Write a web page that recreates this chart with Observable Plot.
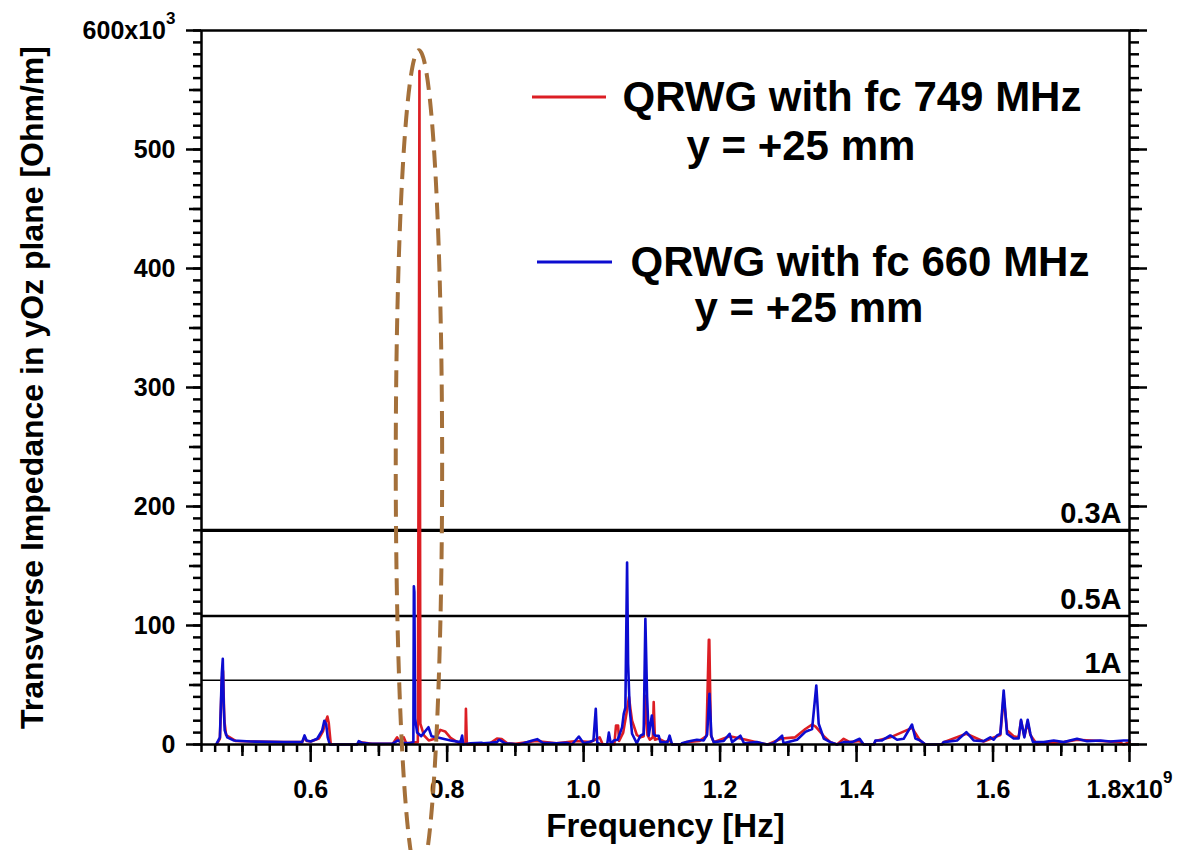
<!DOCTYPE html>
<html>
<head>
<meta charset="utf-8">
<script src="https://cdn.jsdelivr.net/npm/d3@7"></script>
<script src="https://cdn.jsdelivr.net/npm/@observablehq/plot@0.6"></script>
<style>
  html, body { margin: 0; padding: 0; background: #fff; overflow: hidden; }
  #chart svg { display: block; }
</style>
</head>
<body>
<div id="chart"></div>
<script>
// ---------------- data (frequency in GHz = 10^9 Hz, impedance in 10^3 Ohm/m) ----------------
const xDomain = [0.44, 1.8];
const yDomain = [0, 600];

const xMajorTicks = [0.6, 0.8, 1.0, 1.2, 1.4, 1.6, 1.8];
const xTickLabels = ["0.6", "0.8", "1.0", "1.2", "1.4", "1.6", "1.8x10^9"];
const yMajorTicks = [0, 100, 200, 300, 400, 500, 600];
const yTickLabels = ["0", "100", "200", "300", "400", "500", "600x10^3"];

const xLabel = "Frequency [Hz]";
const yLabel = "Transverse Impedance in yOz plane [Ohm/m]";

const legendLabels = ["QRWG with fc 749 MHz", "QRWG with fc 660 MHz"];
const legendSubLabel = "y = +25 mm";

const thresholdValues = [180, 108, 54];
const thresholdLabels = ["0.3A", "0.5A", "1A"];

// annotation ellipse around the 749 MHz resonance (center and radii in data units)
const ellipseCenter = [0.7594, 235];
const ellipseRadii = [0.034, 348];

// QRWG fc 749 MHz (red)
const redSeries = [
  [0.462, 0], [0.467, 5], [0.4698, 55], [0.4715, 62], [0.4735, 20], [0.476, 8], [0.490, 3],
  [0.512, 2.5], [0.560, 2], [0.5875, 2], [0.591, 6], [0.594, 3], [0.600, 2.5], [0.612, 5],
  [0.618, 11], [0.6225, 20], [0.6245, 23.5], [0.6265, 18], [0.6295, 0], [0.668, 0],
  [0.671, 2], [0.690, 0.5], [0.720, 0.5], [0.7267, 6], [0.731, 2], [0.7365, 6], [0.740, 1],
  [0.757, 2], [0.7588, 370], [0.7594, 566], [0.7600, 300], [0.7607, 17.6], [0.766, 7.6],
  [0.773, 3.4], [0.783, 5], [0.790, 12.3], [0.797, 11], [0.805, 5.6], [0.818, 1],
  [0.8268, 1], [0.8275, 30], [0.8288, 2], [0.8295, 0], [0.860, 0], [0.873, 5], [0.880, 4.5],
  [0.888, 1], [0.900, 0.5], [0.930, 3], [0.960, 1], [0.990, 3], [1.010, 2], [1.020, 5],
  [1.0235, 6], [1.028, 0], [1.045, 0], [1.0475, 16], [1.0505, 16], [1.052, 3], [1.058, 10],
  [1.0625, 25], [1.0665, 40], [1.0686, 30], [1.071, 20], [1.078, 8], [1.0832, 6], [1.088, 7],
  [1.0915, 41], [1.0935, 8], [1.097, 4], [1.1015, 6], [1.1027, 35.6], [1.1045, 4], [1.110, 5],
  [1.120, 2], [1.126, 4], [1.1297, 0], [1.1425, 0], [1.150, 2], [1.170, 3], [1.180, 7],
  [1.1835, 88], [1.1842, 88], [1.1865, 8], [1.1906, 2], [1.214, 7], [1.230, 5], [1.260, 1],
  [1.270, 0], [1.290, 5], [1.310, 6], [1.325, 13], [1.3348, 16.8], [1.340, 15], [1.3445, 12],
  [1.352, 7], [1.3616, 2], [1.3714, 0], [1.3811, 4.8], [1.390, 2], [1.4045, 3], [1.4104, 0],
  [1.4255, 0], [1.4276, 3], [1.4495, 6], [1.4813, 14], [1.4935, 3], [1.5008, 0], [1.525, 0],
  [1.5277, 2], [1.5609, 9], [1.5862, 2.5], [1.6107, 8], [1.6156, 40], [1.6205, 12],
  [1.6302, 7], [1.6375, 6], [1.641, 20], [1.6459, 7], [1.6508, 19], [1.6547, 8], [1.6645, 0],
  [1.6743, 1], [1.7036, 2], [1.7231, 4], [1.7573, 3], [1.785, 2], [1.7915, 0], [1.800, 2]
];

// QRWG fc 660 MHz (blue)
const blueSeries = [
  [0.462, 0.5], [0.467, 6], [0.4698, 60], [0.4712, 72], [0.4727, 31], [0.474, 12],
  [0.4777, 6], [0.487, 3.4], [0.512, 2.5], [0.560, 2], [0.5875, 2], [0.591, 7.6], [0.594, 3.4],
  [0.600, 2.5], [0.6095, 4.8], [0.6168, 11.8], [0.620, 20], [0.6227, 17], [0.625, 6],
  [0.628, 0], [0.668, 0], [0.6705, 2.8], [0.675, 1.5], [0.685, 0.8], [0.700, 0.5],
  [0.720, 0.8], [0.728, 3.4], [0.735, 1.5], [0.745, 1], [0.7505, 2], [0.7512, 133],
  [0.7520, 128], [0.7530, 22], [0.756, 10], [0.762, 7], [0.7726, 14.5], [0.777, 7],
  [0.788, 5.6], [0.805, 3.4], [0.8195, 2], [0.822, 7.5], [0.8235, 0], [0.834, 1], [0.850, 1.5],
  [0.853, 1], [0.863, 1.5], [0.873, 2], [0.876, 4], [0.885, 1], [0.895, 0.5], [0.905, 0],
  [0.912, 1], [0.925, 3.4], [0.932, 4.5], [0.940, 1.5], [0.960, 1], [0.975, 1.5], [0.983, 0],
  [0.993, 6.7], [1.000, 1], [1.0075, 2], [1.0144, 3.4], [1.0178, 30], [1.020, 1.5],
  [1.025, 0], [1.0345, 0], [1.037, 10], [1.040, 0], [1.0441, 3.4], [1.050, 4], [1.0564, 14.6],
  [1.0588, 25.8], [1.0612, 31], [1.0637, 153], [1.0652, 68], [1.0675, 30], [1.071, 9],
  [1.078, 1], [1.0832, 7.4], [1.088, 8.8], [1.0905, 105.6], [1.093, 40], [1.0954, 7.4],
  [1.100, 24.4], [1.1027, 9], [1.1052, 7.4], [1.110, 7.4], [1.1125, 2], [1.123, 2],
  [1.126, 7.4], [1.1297, 0], [1.1425, 0], [1.144, 1], [1.1565, 3], [1.166, 4], [1.176, 3.4],
  [1.181, 8.4], [1.1844, 42.6], [1.1873, 7], [1.1906, 2], [1.2053, 3], [1.214, 9],
  [1.2176, 2], [1.2298, 7.4], [1.235, 1], [1.254, 2], [1.269, 0], [1.2786, 1], [1.2909, 7.4],
  [1.293, 1], [1.3128, 4], [1.325, 10.6], [1.3348, 13], [1.341, 49.6], [1.3445, 17.4],
  [1.352, 5], [1.3616, 2], [1.3714, 0], [1.3811, 2], [1.3934, 2], [1.4045, 4.8], [1.4104, 0],
  [1.4255, 0], [1.4276, 3.4], [1.4374, 3.4], [1.4495, 7.6], [1.4594, 4], [1.469, 4.8],
  [1.4813, 16.8], [1.4862, 5], [1.4935, 3.4], [1.5008, 0], [1.525, 0], [1.5277, 2],
  [1.5473, 3.4], [1.5609, 10.4], [1.5716, 3.4], [1.5862, 2.8], [1.596, 6], [1.6009, 4],
  [1.6059, 7.6], [1.6107, 9], [1.6156, 45.4], [1.6205, 9], [1.6302, 5], [1.6375, 5],
  [1.641, 20.7], [1.6459, 6], [1.6508, 20.7], [1.6547, 9], [1.6586, 2], [1.6743, 2],
  [1.689, 3.4], [1.7036, 2], [1.7231, 4.8], [1.7378, 2.8], [1.7573, 3.4], [1.772, 2.5],
  [1.7915, 3.4], [1.800, 3.4]
];

// ---------------- chart ----------------
const RED = "#dc1e24";
const BLUE = "#0c0cd0";
const BROWN = "#a4703a";
const FONT = "'Liberation Sans', Arial, Helvetica, sans-serif";

const toRows = s => s.map(([f, v]) => ({f, v}));
const redRows = toRows(redSeries);
const blueRows = toRows(blueSeries);
const thresholds = thresholdValues.map((v, i) => ({v, label: thresholdLabels[i]}));

const xMinor = d3.range(22, 91).map(i => i / 50);          // every 0.02
const xMid = d3.range(5, 18, 2).map(i => i / 10);           // 0.5, 0.7, ...
const yMinor = d3.range(0, 61).map(i => i * 10);            // every 10
const yMid = d3.range(50, 600, 100);                         // 50, 150, ...

const xFmt = d => xTickLabels[xMajorTicks.findIndex(t => Math.abs(t - d) < 1e-9)] ?? "";
const yFmt = d => yTickLabels[yMajorTicks.indexOf(d)] ?? "";
const none = () => "";

// annotation: ellipse + legend swatches (drawn through the scales)
function annotations(index, scales, values, dimensions) {
  const g = d3.create("svg:g");
  const {x, y} = scales;
  const cx = x(ellipseCenter[0]), cy = y(ellipseCenter[1]);
  const rx = Math.abs(x(ellipseCenter[0] + ellipseRadii[0]) - cx);
  const ry = Math.abs(y(ellipseCenter[1] + ellipseRadii[1]) - cy);
  g.append("ellipse")
    .attr("cx", cx).attr("cy", cy).attr("rx", rx).attr("ry", ry)
    .attr("fill", "none").attr("stroke", BROWN).attr("stroke-width", 4)
    .attr("stroke-dasharray", "17,9");
  const ml = dimensions ? dimensions.marginLeft : 201;
  const mt = dimensions ? dimensions.marginTop : 30;
  const sw = [[RED, 331, 405, 67], [BLUE, 336, 411, 232]];
  for (const [c, a, b, yy] of sw) {
    g.append("line").attr("x1", ml + a).attr("x2", ml + b)
      .attr("y1", mt + yy).attr("y2", mt + yy)
      .attr("stroke", c).attr("stroke-width", 3);
  }
  return g.node();
}

const chart = Plot.plot({
  width: 1180,
  height: 880,
  marginLeft: 201,
  marginRight: 51,
  marginTop: 30,
  marginBottom: 136,
  style: {fontFamily: FONT, fontWeight: "bold", background: "#fff", color: "#000"},
  x: {domain: xDomain, label: null},
  y: {domain: yDomain, label: null},
  marks: [
    // threshold lines
    Plot.ruleY(thresholds, {y: "v", stroke: "#000", strokeWidth: (d, i) => [3.2, 2.6, 1.3][i]}),
    Plot.text(thresholds, {y: "v", frameAnchor: "right", text: "label", textAnchor: "end",
      lineAnchor: "middle", dx: -8, dy: -16.5, fontSize: 29, fontWeight: "bold", fill: "#000"}),

    // data
    Plot.line(redRows, {x: "f", y: "v", stroke: RED, strokeWidth: 2.6}),
    Plot.line(blueRows, {x: "f", y: "v", stroke: BLUE, strokeWidth: 2.6}),

    // axes: bottom
    Plot.axisX(xMinor, {anchor: "bottom", tickSize: 8, tickFormat: none, strokeWidth: 2.5, label: null}),
    Plot.axisX(xMid, {anchor: "bottom", tickSize: 12, tickFormat: none, strokeWidth: 2.5, label: null}),
    Plot.axisX(xMajorTicks, {anchor: "bottom", tickSize: 18, tickPadding: 18, tickFormat: xFmt,
      strokeWidth: 2.5, fontSize: 25, fontWeight: "bold", label: null}),
    // axes: left
    Plot.axisY(yMinor, {anchor: "left", tickSize: 8, tickFormat: none, strokeWidth: 2.5, label: null}),
    Plot.axisY(yMid, {anchor: "left", tickSize: 12, tickFormat: none, strokeWidth: 2.5, label: null}),
    Plot.axisY(yMajorTicks, {anchor: "left", tickSize: 15, tickPadding: 11, tickFormat: yFmt,
      strokeWidth: 2.5, fontSize: 25, fontWeight: "bold", label: null}),
    // axes: right (ticks only)
    Plot.axisY(yMinor, {anchor: "right", tickSize: 9, tickFormat: none, strokeWidth: 2.5, label: null}),
    Plot.axisY(yMid, {anchor: "right", tickSize: 12, tickFormat: none, strokeWidth: 2.5, label: null}),
    Plot.axisY(yMajorTicks, {anchor: "right", tickSize: 17, tickFormat: none, strokeWidth: 2.5, label: null}),

    Plot.frame({stroke: "#000", strokeWidth: 2.5}),

    // axis titles
    Plot.text([xLabel], {frameAnchor: "bottom", text: d => d, dy: 82, textAnchor: "middle", lineAnchor: "middle",
      fontSize: 33, fontWeight: "bold", fill: "#000"}),
    Plot.text([yLabel], {frameAnchor: "left", text: d => d, rotate: -90, dx: -169, textAnchor: "middle",
      lineAnchor: "middle", fontSize: 32, fontWeight: "bold", fill: "#000"}),

    // legend text
    Plot.text([legendLabels[0]], {frameAnchor: "top-left", text: d => d, textAnchor: "start",
      lineAnchor: "middle", dx: 421, dy: 67.5, fontSize: 42, fontWeight: "bold", fill: "#000"}),
    Plot.text([legendSubLabel], {frameAnchor: "top-left", text: d => d, textAnchor: "start",
      lineAnchor: "middle", dx: 485, dy: 116.5, fontSize: 42, fontWeight: "bold", fill: "#000"}),
    Plot.text([legendLabels[1]], {frameAnchor: "top-left", text: d => d, textAnchor: "start",
      lineAnchor: "middle", dx: 429, dy: 232.5, fontSize: 42, fontWeight: "bold", fill: "#000"}),
    Plot.text([legendSubLabel], {frameAnchor: "top-left", text: d => d, textAnchor: "start",
      lineAnchor: "middle", dx: 493, dy: 278, fontSize: 42, fontWeight: "bold", fill: "#000"}),

    annotations
  ]
});

// superscript exponents in tick labels ("x10^9" -> x10 with raised 9)
d3.select(chart).selectAll("text").each(function () {
  const t = this.textContent;
  if (!t.includes("^")) return;
  const [base, exp] = t.split("^");
  const node = d3.select(this);
  node.text(base);
  node.append("tspan").attr("dy", -15).attr("font-size", 17).text(exp);
});

document.getElementById("chart").appendChild(chart);
</script>
</body>
</html>
